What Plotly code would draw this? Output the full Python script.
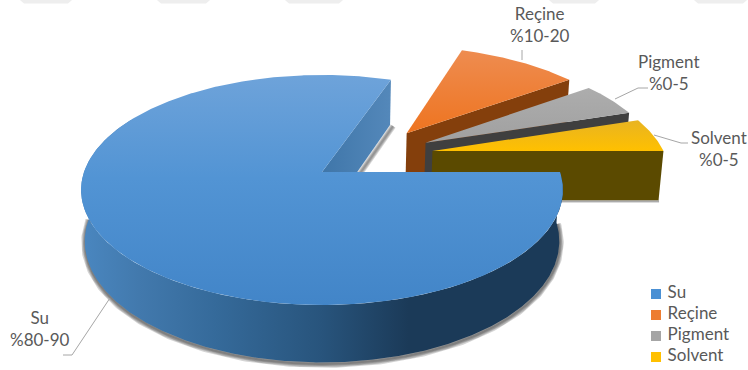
import numpy as np
import plotly.graph_objects as go

# Chart content
categories = ["Su", "Reçine", "Pigment", "Solvent"]
ranges = ["%80-90", "%10-20", "%0-5", "%0-5"]
shares = [82, 10, 5, 5]

# Styling per slice
top_scales = [
    [[0, "#4285c8"], [0.55, "#5294d4"], [1, "#6ea3da"]],
    [[0, "#ee7420"], [1, "#ee8c50"]],
    [[0, "#a0a0a0"], [1, "#adadad"]],
    [[0, "#ffc000"], [1, "#e8b422"]],
]
edge_colours = ["#4a7fb2", "#843f0c", "#3f3f3f", "#5b4a00"]
swatches = ["#4a90d4", "#ed7d31", "#a5a5a5", "#ffc000"]

# Perspective camera of the pie, in pixels of the page
X0, Y0 = 322.0, 172.0
F, G, H = 238.0, 112.2, 51.3
K, M = 0.1565, 0.015
EXPLODE = 0.265


def project(u, v, z):
    w = 1 + K * np.asarray(v) + M * z
    return X0 + F * np.asarray(u) / w, Y0 + (-G * np.asarray(v) + H * z) / w


# Slices run clockwise and the first one ends at due east
sweeps = [s / sum(shares) * 360 for s in shares]
stops = np.cumsum(sweeps[::-1])[::-1]
slices = []
for sweep, hi in zip(sweeps, [360.0] + list(stops[1:])):
    slices.append((hi - sweep, hi))

mid0 = np.radians(sum(slices[0]) / 2)


def apex(i):
    mid = np.radians(sum(slices[i]) / 2)
    return (EXPLODE * (np.cos(mid) - np.cos(mid0)),
            EXPLODE * (np.sin(mid) - np.sin(mid0)))


def arc(i, lo, hi, z):
    t = np.radians(np.linspace(lo, hi, int(abs(hi - lo) * 2) + 2))
    a = apex(i)
    return project(a[0] + np.cos(t), a[1] + np.sin(t), z)


def radial_wall(i, deg):
    a = apex(i)
    t = np.radians(deg)
    tip = (a[0] + np.cos(t), a[1] + np.sin(t))
    xs, ys = [], []
    for p, z in [(a, 0), (tip, 0), (tip, 1), (a, 1)]:
        x, y = project(p[0], p[1], z)
        xs.append(float(x))
        ys.append(float(y))
    return xs, ys


def polygon(fig, xs, ys, colour=None, gradient=None):
    kw = {"fillgradient": gradient} if gradient else {"fillcolor": colour}
    fig.add_trace(go.Scatter(x=list(xs), y=list(ys), mode="lines", fill="toself",
                             line=dict(width=0), hoverinfo="skip",
                             showlegend=False, **kw))


def soft_edge(fig, xs, ys, widths, alpha):
    # Stacked translucent strokes make a soft contact shadow
    for w in widths:
        fig.add_trace(go.Scatter(x=list(xs), y=list(ys), mode="lines",
                                 line=dict(width=w, color=f"rgba(40,40,40,{alpha})"),
                                 hoverinfo="skip", showlegend=False))


def slice_top(fig, i):
    lo, hi = slices[i]
    x, y = arc(i, lo, hi, 0)
    ax, ay = project(*apex(i), 0)
    polygon(fig, [float(ax), *x, float(ax)], [float(ay), *y, float(ay)],
            gradient=dict(type="vertical", colorscale=top_scales[i]))


fig = go.Figure()

# Back slices, painted far to near
for i in (1, 2, 3):
    xs, ys = radial_wall(i, slices[i][0])
    soft_edge(fig, np.array(xs[2:]) + 0.5, np.array(ys[2:]) + 1, [3, 1.5], 0.22)
    polygon(fig, xs, ys, edge_colours[i])
    slice_top(fig, i)

# Largest slice: shadows, inner wall, rim, then the top surface
xs, ys = radial_wall(0, slices[0][0])
soft_edge(fig, np.array(xs[2:]) + 3, np.array(ys[2:]) + 1, [6, 4, 2], 0.2)
polygon(fig, xs, ys, gradient=dict(
    type="horizontal", colorscale=[[0, "#3f76a9"], [1, "#5488ba"]]))

bx, by = arc(0, 178, 360, 1)
soft_edge(fig, bx + 0.5, by + 1.5, [8, 6, 4, 2], 0.2)

tx, ty = arc(0, 150, 360, 0)
bx, by = arc(0, 150, 360, 1)
polygon(fig, np.r_[tx, bx[::-1]], np.r_[ty, by[::-1]], gradient=dict(
    type="horizontal",
    colorscale=[[0, "#4a87c0"], [0.12, "#4279ad"], [0.28, "#356a9a"],
                [0.5, "#28547c"], [0.68, "#1b3a58"], [1, "#1b3a58"]]))
slice_top(fig, 0)

# Leader lines
leaders = [
    ([110, 72, 63], [298, 355, 355]),
    ([522, 522], [60, 50]),
    ([615, 638, 648], [99, 88, 88]),
    ([654, 681, 688], [135, 143, 143]),
]
for lx, ly in leaders:
    fig.add_trace(go.Scatter(x=lx, y=ly, mode="lines",
                             line=dict(width=1, color="#a6a6a6"),
                             hoverinfo="skip", showlegend=False))

# Data labels
label_spots = [(40, 328), (540, 24), (669, 72), (719, 148)]
for name, rng, (lx, ly) in zip(categories, ranges, label_spots):
    fig.add_annotation(x=lx, y=ly, text=f"{name}<br>{rng}", showarrow=False,
                       font=dict(family="Lato", size=17, color="#595959"),
                       align="center", xanchor="center", yanchor="middle")

# Legend column
legend_x = [656] * len(categories)
legend_y = [294, 315, 336, 357]
fig.add_trace(go.Scatter(x=legend_x, y=legend_y, mode="markers+text",
                         marker=dict(symbol="square", size=10, color=swatches),
                         text=[" " + c for c in categories], textposition="middle right",
                         textfont=dict(family="Lato", size=17, color="#595959"),
                         hoverinfo="skip", showlegend=False))

# Pale bands along the top edge of the page
for left, right in [(20, 72), (157, 210), (285, 343), (549, 599), (694, 747)]:
    fig.add_shape(type="path", xref="x", yref="y", line_width=0, fillcolor="#eeeeee",
                  path=f"M {left} 0 L {right} 0 L {right - 4} 3.5 L {left + 4} 3.5 Z",
                  layer="below")

fig.update_layout(
    width=748, height=370, margin=dict(l=0, r=0, t=0, b=0),
    paper_bgcolor="white", plot_bgcolor="white", showlegend=False,
    xaxis=dict(range=[0, 748], visible=False, fixedrange=True),
    yaxis=dict(range=[370, 0], visible=False, fixedrange=True),
)
fig.write_html("out.html", config={"displayModeBar": False})
